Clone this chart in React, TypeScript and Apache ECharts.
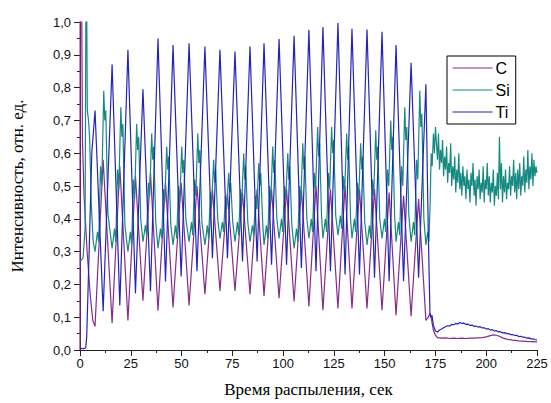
import React, { useEffect, useRef } from "react";
import * as echarts from "echarts";

// Times (s) of the Ti maxima (also C / Si minima) and Ti minima (C maxima)
const peakTimes = [7.4, 15.8, 23.6, 31.0, 38.4, 45.8, 53.7, 61.5, 68.9, 76.3, 83.7, 90.6, 98.0, 105.4, 112.7, 119.6, 127.0, 133.9, 141.3, 148.7, 155.6, 163.0, 170.3];
const troughTimes = [11.4, 19.6, 27.3, 34.7, 42.1, 49.8, 57.6, 65.2, 72.6, 80.0, 87.2, 94.3, 101.7, 109.0, 116.2, 123.3, 130.5, 137.6, 145.0, 152.2, 159.3, 166.7];

// Ti
const tiPeaks = [0.73, 0.87, 0.915, 0.795, 0.95, 0.93, 0.935, 0.925, 0.915, 0.91, 0.925, 0.935, 0.948, 0.958, 0.976, 0.985, 0.997, 0.979, 0.977, 0.97, 0.93, 0.876, 0.81];
const tiTroughs = [0.118, 0.136, 0.173, 0.179, 0.209, 0.224, 0.24, 0.28, 0.28, 0.27, 0.27, 0.26, 0.26, 0.25, 0.24, 0.24, 0.23, 0.23, 0.22, 0.21, 0.21, 0.22];
const tiStart = [[0, 0.005], [1.5, 0.004], [2.8, 0.006], [3.3, 0.04], [4.5, 0.3], [5.8, 0.6]];
const tiEnd = [[171.5, 0.35], [172.3, 0.11], [172.8, 0.1], [173.3, 0.106], [174.0, 0.075], [175.0, 0.058], [176.0, 0.055], [177.0, 0.061], [178.0, 0.064], [179.0, 0.068], [180.0, 0.071], [181.0, 0.074], [182.0, 0.073], [183.0, 0.078], [184.0, 0.077], [185.0, 0.081], [186.0, 0.079], [187.0, 0.084], [188.0, 0.081], [189.0, 0.082], [190.0, 0.078], [191.0, 0.079], [192.0, 0.075], [193.0, 0.076], [194.0, 0.072], [195.0, 0.073], [196.0, 0.07], [197.0, 0.071], [198.0, 0.067], [199.0, 0.068], [200.0, 0.064], [201.0, 0.065], [202.0, 0.061], [203.0, 0.062], [204.0, 0.058], [205.0, 0.059], [206.0, 0.055], [207.0, 0.056], [208.0, 0.052], [209.0, 0.053], [210.0, 0.05], [211.0, 0.05], [212.0, 0.047], [213.0, 0.047], [214.0, 0.044], [215.0, 0.045], [216.0, 0.041], [217.0, 0.042], [218.0, 0.039], [219.0, 0.039], [220.0, 0.036], [221.0, 0.037], [222.0, 0.034], [223.0, 0.034], [224.0, 0.032], [225.0, 0.031]];

// C
const cTroughs = [0.072, 0.082, 0.09, 0.15, 0.12, 0.13, 0.136, 0.17, 0.18, 0.18, 0.17, 0.165, 0.158, 0.148, 0.133, 0.121, 0.127, 0.127, 0.127, 0.121, 0.106, 0.103, 0.09];
const cPeaks = [0.58, 0.56, 0.53, 0.54, 0.51, 0.51, 0.5, 0.49, 0.48, 0.48, 0.49, 0.49, 0.49, 0.49, 0.5, 0.49, 0.5, 0.49, 0.49, 0.48, 0.47, 0.46];
const cStart = [[0, 0], [0.05, 1.1], [0.8, 1.1], [1.2, 0.64], [2.0, 0.47], [3.5, 0.3], [5.0, 0.17], [6.3, 0.09]];
const cEnd = [[171.5, 0.1], [172.3, 0.112], [173.0, 0.095], [174.0, 0.06], [175.0, 0.045], [176.0, 0.038], [178.0, 0.036], [180.0, 0.037], [182.0, 0.035], [184.0, 0.036], [186.0, 0.035], [188.0, 0.036], [190.0, 0.035], [192.0, 0.036], [194.0, 0.036], [196.0, 0.037], [198.0, 0.038], [200.0, 0.04], [202.0, 0.044], [203.5, 0.046], [205.0, 0.045], [206.5, 0.042], [208.0, 0.037], [210.0, 0.033], [213.0, 0.03], [216.0, 0.028], [220.0, 0.026], [225.0, 0.025]];

// Si
const siStart = [[0, 0.27], [1.5, 0.28], [2.5, 0.37], [2.9, 1.05], [3.3, 1.05], [3.6, 0.73], [4.2, 0.7], [4.8, 0.64], [5.5, 0.45], [6.5, 0.33]];
const siCycles = [
  [7.4, 0.3], [8.6, 0.36], [9.2, 0.33], [10.1, 0.56], [10.7, 0.5], [11.7, 0.79], [12.2, 0.7], [12.7, 0.73], [13.7, 0.42],
  [15.8, 0.31], [17.0, 0.37], [17.6, 0.33], [18.5, 0.55], [19.1, 0.49], [20.1, 0.74], [20.6, 0.65], [21.1, 0.69], [22.1, 0.38],
  [23.6, 0.3], [24.8, 0.36], [25.4, 0.32], [26.3, 0.52], [26.9, 0.46], [27.9, 0.69], [28.4, 0.61], [28.9, 0.65], [29.9, 0.4],
  [31.0, 0.33], [32.2, 0.38], [32.8, 0.35], [33.7, 0.51], [34.3, 0.47], [35.3, 0.66], [35.8, 0.58], [36.3, 0.62], [37.3, 0.39],
  [38.4, 0.31], [39.6, 0.37], [40.2, 0.34], [41.1, 0.49], [41.7, 0.45], [42.7, 0.62], [43.2, 0.55], [43.7, 0.59], [44.7, 0.38],
  [45.8, 0.32], [47.0, 0.38], [47.6, 0.34], [48.5, 0.5], [49.1, 0.45], [50.1, 0.62], [50.6, 0.54], [51.1, 0.58], [52.1, 0.4],
  [53.7, 0.33], [54.9, 0.39], [55.5, 0.35], [56.4, 0.52], [57.0, 0.47], [58.0, 0.66], [58.5, 0.57], [59.0, 0.61], [60.0, 0.39],
  [61.5, 0.32], [62.7, 0.38], [63.3, 0.34], [64.2, 0.48], [64.8, 0.44], [65.8, 0.58], [66.3, 0.51], [66.8, 0.55], [67.8, 0.4],
  [68.9, 0.34], [70.1, 0.39], [70.7, 0.36], [71.6, 0.47], [72.2, 0.43], [73.2, 0.54], [73.7, 0.48], [74.2, 0.51], [75.2, 0.39],
  [76.3, 0.33], [77.5, 0.39], [78.1, 0.35], [79.0, 0.49], [79.6, 0.44], [80.6, 0.6], [81.1, 0.52], [81.6, 0.56], [82.6, 0.39],
  [83.7, 0.33], [84.9, 0.38], [85.5, 0.35], [86.4, 0.47], [87.0, 0.43], [88.0, 0.57], [88.5, 0.5], [89.0, 0.54], [90.0, 0.38],
  [90.6, 0.32], [91.8, 0.38], [92.4, 0.34], [93.3, 0.5], [93.9, 0.45], [94.9, 0.62], [95.4, 0.54], [95.9, 0.58], [96.9, 0.4],
  [98.0, 0.34], [99.2, 0.4], [99.8, 0.36], [100.7, 0.5], [101.3, 0.46], [102.3, 0.6], [102.8, 0.52], [103.3, 0.56], [104.3, 0.38],
  [105.4, 0.31], [106.6, 0.37], [107.2, 0.33], [108.1, 0.5], [108.7, 0.45], [109.7, 0.63], [110.2, 0.55], [110.7, 0.59], [111.7, 0.4],
  [112.7, 0.34], [113.9, 0.4], [114.5, 0.36], [115.4, 0.54], [116.0, 0.49], [117.0, 0.68], [117.5, 0.59], [118.0, 0.63], [118.9, 0.41],
  [119.6, 0.34], [120.8, 0.4], [121.4, 0.36], [122.3, 0.54], [122.9, 0.49], [123.9, 0.68], [124.4, 0.6], [124.9, 0.64], [125.9, 0.41],
  [127.0, 0.35], [128.2, 0.41], [128.8, 0.37], [129.7, 0.53], [130.3, 0.48], [131.3, 0.66], [131.8, 0.58], [132.3, 0.62], [133.2, 0.4],
  [133.9, 0.34], [135.1, 0.4], [135.7, 0.36], [136.6, 0.51], [137.2, 0.46], [138.2, 0.63], [138.7, 0.55], [139.2, 0.59], [140.2, 0.39],
  [141.3, 0.32], [142.5, 0.38], [143.1, 0.34], [144.0, 0.52], [144.6, 0.47], [145.6, 0.67], [146.1, 0.58], [146.6, 0.62], [147.6, 0.4],
  [148.7, 0.34], [149.9, 0.4], [150.5, 0.36], [151.4, 0.55], [152.0, 0.5], [153.0, 0.7], [153.5, 0.61], [154.0, 0.65], [154.9, 0.41],
  [155.6, 0.33], [156.8, 0.39], [157.4, 0.35], [158.3, 0.56], [158.9, 0.5], [159.9, 0.74], [160.4, 0.64], [160.9, 0.68], [161.9, 0.41],
  [163.0, 0.33], [164.2, 0.39], [164.8, 0.35], [165.7, 0.58], [166.3, 0.52], [167.3, 0.79], [167.8, 0.68], [168.3, 0.72], [169.3, 0.4],
  [170.3, 0.32], [171.2, 0.36], [171.8, 0.33], [172.4, 0.45], [172.9, 0.6], [173.4, 0.56], [174.0, 0.66], [174.5, 0.6], [175.0, 0.68]
];
const siTailStart = 175.5;
const siTailStep = 0.5;
const siTail = [
  0.63, 0.58, 0.66, 0.55, 0.61, 0.57, 0.64, 0.53, 0.59, 0.55, 0.62, 0.51, 0.57, 0.54, 0.63, 0.5, 0.56, 0.52, 0.59, 0.48,
  0.55, 0.51, 0.6, 0.49, 0.54, 0.47, 0.56, 0.5, 0.53, 0.46, 0.55, 0.49, 0.52, 0.45, 0.54, 0.5, 0.57, 0.47, 0.52, 0.44,
  0.53, 0.49, 0.55, 0.46, 0.51, 0.48, 0.56, 0.45, 0.52, 0.49, 0.57, 0.47, 0.53, 0.45, 0.51, 0.48, 0.55, 0.44, 0.5, 0.47,
  0.54, 0.46, 0.65, 0.49, 0.57, 0.45, 0.53, 0.48, 0.55, 0.46, 0.51, 0.49, 0.56, 0.47, 0.53, 0.5, 0.58, 0.48, 0.54, 0.46,
  0.55, 0.49, 0.57, 0.47, 0.53, 0.5, 0.59, 0.48, 0.55, 0.51, 0.61, 0.49, 0.56, 0.52, 0.6, 0.5, 0.58, 0.53, 0.56, 0.54
];

const xTicks = { min: 0, max: 225, interval: 25 };
const yTicks = { min: 0, max: 1, interval: 0.1 };

const seriesNames = ["C", "Si", "Ti"];
const seriesColors = ["#872b8a", "#168a80", "#2424b8"];

function interleave(lowTimes: number[], lowVals: number[], highTimes: number[], highVals: number[]) {
  const out: number[][] = [];
  for (let i = 0; i < lowTimes.length; i++) {
    out.push([lowTimes[i], lowVals[i]]);
    if (i < highTimes.length) out.push([highTimes[i], highVals[i]]);
  }
  return out;
}

export default function App() {
  const ref = useRef<HTMLDivElement>(null);
  useEffect(() => {
    if (!ref.current) return;
    const chart = echarts.init(ref.current, undefined, { renderer: "svg" });
    const tiData = [...tiStart, ...interleave(peakTimes, tiPeaks, troughTimes, tiTroughs), ...tiEnd];
    const cData = [...cStart, ...interleave(peakTimes, cTroughs, troughTimes, cPeaks), ...cEnd];
    const siData = [...siStart, ...siCycles, ...siTail.map((v, i) => [siTailStart + i * siTailStep, v])];
    const datas = [cData, siData, tiData];
    const axisLine = { show: true, lineStyle: { color: "#222", width: 1 } };
    chart.setOption({
      animation: false,
      backgroundColor: "#fff",
      grid: { left: 80, right: 14, top: 22, bottom: 51, containLabel: false },
      legend: {
        orient: "vertical",
        left: 447,
        top: 56,
        padding: [4, 6, 4, 5],
        itemWidth: 40,
        itemHeight: 14,
        itemGap: 6,
        borderColor: "#000",
        borderWidth: 1,
        itemStyle: { opacity: 0, borderWidth: 0 },
        lineStyle: { width: 1, opacity: 1 },
        textStyle: { fontFamily: "Liberation Sans", fontSize: 16, color: "#000", padding: [0, 0, 0, -2] },
        data: seriesNames
      },
      xAxis: {
        type: "value",
        ...xTicks,
        name: "Время распыления, сек",
        nameLocation: "middle",
        nameGap: 31,
        nameTextStyle: { fontFamily: "Liberation Serif", fontSize: 17, color: "#000" },
        axisLine,
        axisTick: { show: true, length: 6, lineStyle: { color: "#222" } },
        minorTick: { show: true, splitNumber: 2, length: 3, lineStyle: { color: "#222" } },
        axisLabel: { fontFamily: "Liberation Sans", fontSize: 13, color: "#111", margin: 7 },
        splitLine: { show: false }
      },
      yAxis: {
        type: "value",
        ...yTicks,
        name: "Интенсивность, отн. ед.",
        nameLocation: "middle",
        nameGap: 54,
        nameTextStyle: { fontFamily: "Liberation Serif", fontSize: 17, color: "#000" },
        axisLine,
        axisTick: { show: true, length: 6, lineStyle: { color: "#222" } },
        minorTick: { show: true, splitNumber: 2, length: 3, lineStyle: { color: "#222" } },
        axisLabel: {
          fontFamily: "Liberation Sans",
          fontSize: 13,
          color: "#111",
          margin: 9,
          formatter: (v: number) => v.toFixed(1).replace(".", ",")
        },
        splitLine: { show: false }
      },
      series: seriesNames.map((name, i) => ({
        name,
        type: "line",
        data: datas[i],
        symbol: "none",
        showSymbol: false,
        clip: true,
        lineStyle: { color: seriesColors[i], width: 1.2 },
        itemStyle: { color: seriesColors[i] }
      }))
    });
    return () => chart.dispose();
  }, []);
  return <div ref={ref} style={{ position: "fixed", left: 0, top: 0, width: 551, height: 403, background: "#fff" }} />;
}
